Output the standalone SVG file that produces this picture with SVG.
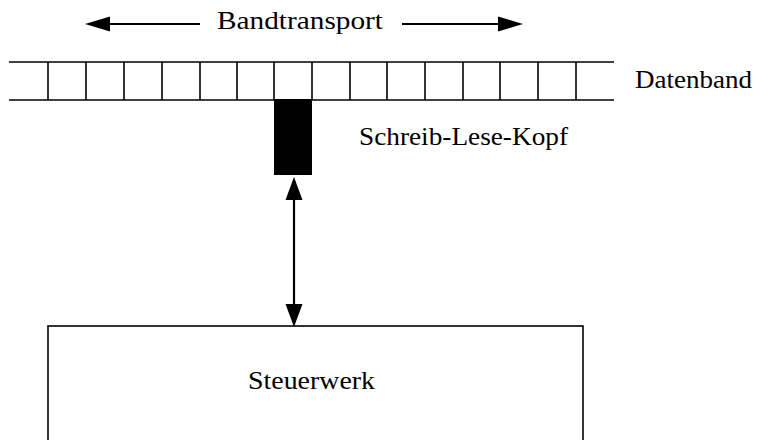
<svg xmlns="http://www.w3.org/2000/svg" width="758" height="440" viewBox="0 0 758 440">
<style>
text{font-family:"Liberation Serif","Times New Roman",serif;font-size:25px;fill:#000}
.ln{stroke:#000;stroke-width:1.6;fill:none}
.ar{stroke:#000;stroke-width:2.2;fill:none}
.ah{fill:#000}
</style>
<rect width="758" height="440" fill="#fff"/>
<g id="bandtransport">
<text x="217" y="29" textLength="166" lengthAdjust="spacingAndGlyphs">Bandtransport</text>
</g>
<g id="datenband">
<line class="ln" x1="9" y1="62" x2="614" y2="62"/>
<line class="ln" x1="9" y1="100" x2="614" y2="100"/>
<g class="ln">
<line x1="48" y1="62" x2="48" y2="100"/>
<line x1="86" y1="62" x2="86" y2="100"/>
<line x1="124" y1="62" x2="124" y2="100"/>
<line x1="162" y1="62" x2="162" y2="100"/>
<line x1="200" y1="62" x2="200" y2="100"/>
<line x1="237" y1="62" x2="237" y2="100"/>
<line x1="274" y1="62" x2="274" y2="100"/>
<line x1="312" y1="62" x2="312" y2="100"/>
<line x1="350" y1="62" x2="350" y2="100"/>
<line x1="387" y1="62" x2="387" y2="100"/>
<line x1="425" y1="62" x2="425" y2="100"/>
<line x1="463" y1="62" x2="463" y2="100"/>
<line x1="500" y1="62" x2="500" y2="100"/>
<line x1="538" y1="62" x2="538" y2="100"/>
<line x1="576" y1="62" x2="576" y2="100"/>
</g>
<text x="635" y="88" textLength="117" lengthAdjust="spacingAndGlyphs">Datenband</text>
</g>
<g id="kopf">
<rect x="274" y="99" width="38" height="76" fill="#000"/>
<text x="359" y="145" textLength="209" lengthAdjust="spacingAndGlyphs">Schreib-Lese-Kopf</text>
</g>
<g id="steuerwerk">
<rect class="ln" x="48" y="326" width="535" height="130"/>
<text x="248" y="389" textLength="127" lengthAdjust="spacingAndGlyphs">Steuerwerk</text>
</g>
<g id="connectors">
<line class="ar" x1="105" y1="24" x2="200" y2="24"/>
<polygon class="ah" points="85,24 110,16.5 110,31.5"/>
<line class="ar" x1="402" y1="24" x2="503" y2="24"/>
<polygon class="ah" points="523,24 498,16.5 498,31.5"/>
<line class="ar" x1="294" y1="195" x2="294" y2="308"/>
<polygon class="ah" points="294,177 285.5,200 302.5,200"/>
<polygon class="ah" points="294,327 285.5,304 302.5,304"/>
</g>
</svg>
